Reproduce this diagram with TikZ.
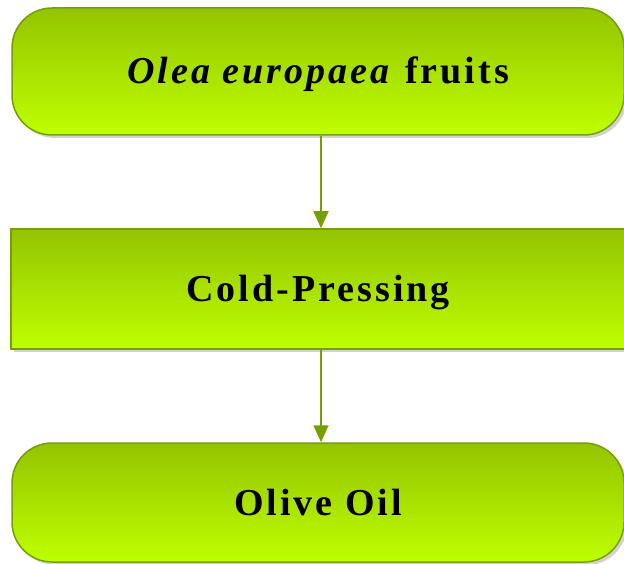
\documentclass[tikz,border=0pt]{standalone}
\usepackage{fontspec}
\setmainfont[LetterSpace=8]{Liberation Serif}
\usetikzlibrary{arrows.meta,shadows}

\definecolor{leafedge}{HTML}{76A000}
\definecolor{leaftop}{HTML}{94C400}
\definecolor{leafbot}{HTML}{BEFF00}

\tikzset{
	stage/.style={draw=leafedge, line width=1.5pt, top color=leaftop, bottom color=leafbot,
		minimum width=612pt, inner sep=0pt, text height=25pt, text depth=0pt,
		font=\fontsize{38}{44}\selectfont\bfseries,
		drop shadow={shadow xshift=3pt, shadow yshift=-3pt, fill=black!35}},
	flow/.style={draw=leafedge, line width=1.5pt, -{Triangle[width=15pt,length=17pt]}}
}

\begin{document}
\begin{tikzpicture}[x=1pt,y=1pt]
		\useasboundingbox (0,0) rectangle (624,563);
		\clip (0,0) rectangle (624,563);
		
		\node[stage, rounded corners=40pt, minimum height=127pt] (fruits) at (318,491.5) {\textit{Olea europaea} fruits};
		\node[stage, minimum width=630pt, minimum height=120pt] (press) at (326,274) {\hspace*{-16pt}Cold-Pressing};
		\node[stage, rounded corners=40pt, minimum height=119pt] (oil) at (318,60.5) {Olive Oil};
		
		\draw[flow] ([xshift=3pt]fruits.south) -- ([xshift=-5pt]press.north);
		\draw[flow] ([xshift=-5pt]press.south) -- ([xshift=3pt]oil.north);
	\end{tikzpicture}
\end{document}
